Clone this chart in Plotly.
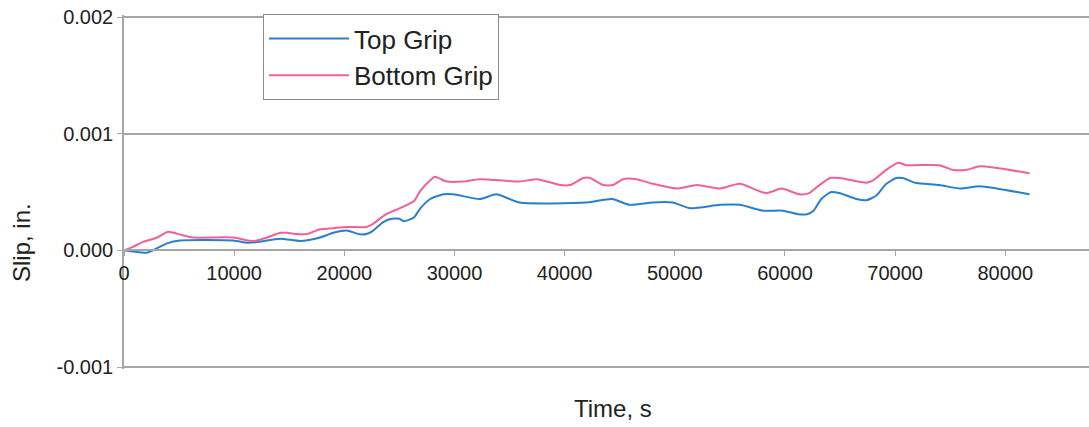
import plotly.graph_objects as go

time_top = [0, 2100, 3900, 5100, 9900, 11200, 12000, 14200, 16000, 17800, 19000, 20200, 21400, 22000, 22500,
            23500, 24300, 25000, 25400, 26300, 26900, 27800, 29000, 29900, 32300, 33800, 35900, 42000, 44300,
            45900, 48000, 49800, 51400, 54100, 55900, 58000, 59800, 61200, 62000, 62600, 63300, 64200, 65000,
            66500, 67400, 68300, 69200, 70100, 70700, 71800, 74000, 75900, 77700, 82200]
slip_top = [0.0, -0.00002, 0.00006, 0.000085, 0.000085, 0.000066, 0.00007, 0.0001, 0.00008, 0.00011, 0.00015,
            0.00017, 0.000137, 0.00014, 0.00016, 0.00024, 0.00027, 0.00027, 0.00025, 0.00028, 0.00036, 0.00044,
            0.00048, 0.00048, 0.00044, 0.00048, 0.00041, 0.00041, 0.00044, 0.00039, 0.00041, 0.00041, 0.00036,
            0.00039, 0.00039, 0.00034, 0.00034, 0.00031, 0.00031, 0.00034, 0.00044, 0.0005, 0.00049, 0.00044,
            0.00043, 0.00047, 0.00057, 0.00062, 0.00062, 0.00058, 0.00056, 0.00053, 0.00055, 0.00048]

time_bottom = [0, 800, 1700, 3000, 4000, 4500, 5300, 6300, 9900, 11200, 11900, 13000, 14200, 14800, 15700,
               16600, 17800, 19000, 20200, 22000, 22500, 23800, 25000, 26300, 26900, 27800, 28200, 29300, 30800,
               32300, 35900, 37500, 39600, 40500, 41700, 42300, 43500, 44400, 45300, 46500, 48000, 50200, 52000,
               54100, 55900, 58300, 59700, 61300, 62200, 63000, 64100, 65000, 67400, 68000, 69200, 70300, 71000,
               74000, 75200, 76500, 77700, 82200]
slip_bottom = [0.0, 0.00003, 0.00007, 0.00011, 0.00016, 0.00015, 0.00013, 0.00011, 0.00011, 0.000085, 0.00008,
               0.00011, 0.00015, 0.00015, 0.00014, 0.00014, 0.00018, 0.00019, 0.0002, 0.0002, 0.00022, 0.00031,
               0.00036, 0.00042, 0.00051, 0.0006, 0.00063, 0.00059, 0.00059, 0.00061, 0.00059, 0.00061, 0.00056,
               0.00056, 0.00062, 0.00062, 0.00056, 0.00056, 0.00061, 0.00061, 0.00057, 0.00053, 0.00056, 0.00053,
               0.00057, 0.00049, 0.00053, 0.00048, 0.00049, 0.00055, 0.00062, 0.00062, 0.00058, 0.0006, 0.00069,
               0.00075, 0.00073, 0.00073, 0.00069, 0.00069, 0.00072, 0.00066]

x_ticks = [0, 10000, 20000, 30000, 40000, 50000, 60000, 70000, 80000]
y_ticks = [-0.001, 0.0, 0.001, 0.002]
y_tick_labels = ["-0.001", "0.000", "0.001", "0.002"]

FONT = "Liberation Sans, Arial, sans-serif"
GRID = "#a6a6a6"

# target window geometry (page body margin removed by post_script)
OFF = 0
Y_TOP_PX, Y_BOT_PX = 17, 367          # pixel rows of 0.002 and -0.001
X_LEFT_PX, X_RIGHT_PX = 124, 1089
PAD_PX = 2                             # keep end gridlines inside the plot area
ymin, ymax = y_ticks[0], y_ticks[-1]
per_px = (ymax - ymin) / (Y_BOT_PX - Y_TOP_PX)
yr = [ymin - PAD_PX * per_px, ymax + PAD_PX * per_px]
plot_top = Y_TOP_PX - PAD_PX
plot_bot = Y_BOT_PX + PAD_PX
plot_h = plot_bot - plot_top
plot_w = X_RIGHT_PX - X_LEFT_PX
W, H = 1089 - OFF, 427 - OFF
m_t = plot_top - OFF
m_l = X_LEFT_PX - OFF
m_b = H - m_t - plot_h
x_axis_pos = (0 - yr[0]) / (yr[1] - yr[0])


def px_x(px):
    return (px - X_LEFT_PX) / plot_w


def px_y(py):
    return (plot_bot - py) / plot_h


fig = go.Figure()
fig.add_trace(go.Scatter(x=time_top, y=slip_top, mode="lines", name="Top Grip",
                         line=dict(color="#2a7fcc", width=2, shape="spline", smoothing=0.6)))
fig.add_trace(go.Scatter(x=time_bottom, y=slip_bottom, mode="lines", name="Bottom Grip",
                         line=dict(color="#f2609a", width=2, shape="spline", smoothing=0.6)))

fig.update_layout(
    width=W, height=H,
    margin=dict(l=m_l, r=0, t=m_t, b=m_b, autoexpand=False),
    paper_bgcolor="white", plot_bgcolor="white",
    font=dict(family=FONT, size=20, color="#222222"),
    showlegend=True,
    legend=dict(x=px_x(263), y=px_y(14), xanchor="left", yanchor="top",
                bordercolor="#8c8c8c", borderwidth=1, bgcolor="white",
                font=dict(size=26, family=FONT, color="#222222"),
                itemwidth=80, tracegroupgap=0),
    xaxis=dict(range=[0, 87600], tickvals=x_ticks, ticktext=[str(v) for v in x_ticks],
               showgrid=False, zeroline=False, showline=True, linecolor=GRID, linewidth=1.5,
               ticks="outside", ticklen=5, tickcolor=GRID, anchor="free", position=x_axis_pos,
               tickfont=dict(size=20), ticklabeloverflow="allow"),
    yaxis=dict(range=yr, tickvals=y_ticks, ticktext=y_tick_labels,
               showgrid=True, gridcolor=GRID, gridwidth=1.5, zeroline=False,
               showline=True, linecolor=GRID, linewidth=1.5, ticks="outside", ticklen=5,
               tickcolor=GRID, tickfont=dict(size=20), ticklabeloverflow="allow"),
    annotations=[
        dict(text="Time, s", xref="paper", yref="paper", x=px_x(613), y=px_y(408),
             xanchor="center", yanchor="middle", showarrow=False, font=dict(size=24)),
        dict(text="Slip, in.", xref="paper", yref="paper", x=px_x(21), y=px_y(243),
             xanchor="center", yanchor="middle", showarrow=False, textangle=-90, font=dict(size=24)),
    ],
)

fig.write_html("out.html", config={"displayModeBar": False},
               post_script="document.body.style.margin='0px';document.body.style.overflow='hidden';")
